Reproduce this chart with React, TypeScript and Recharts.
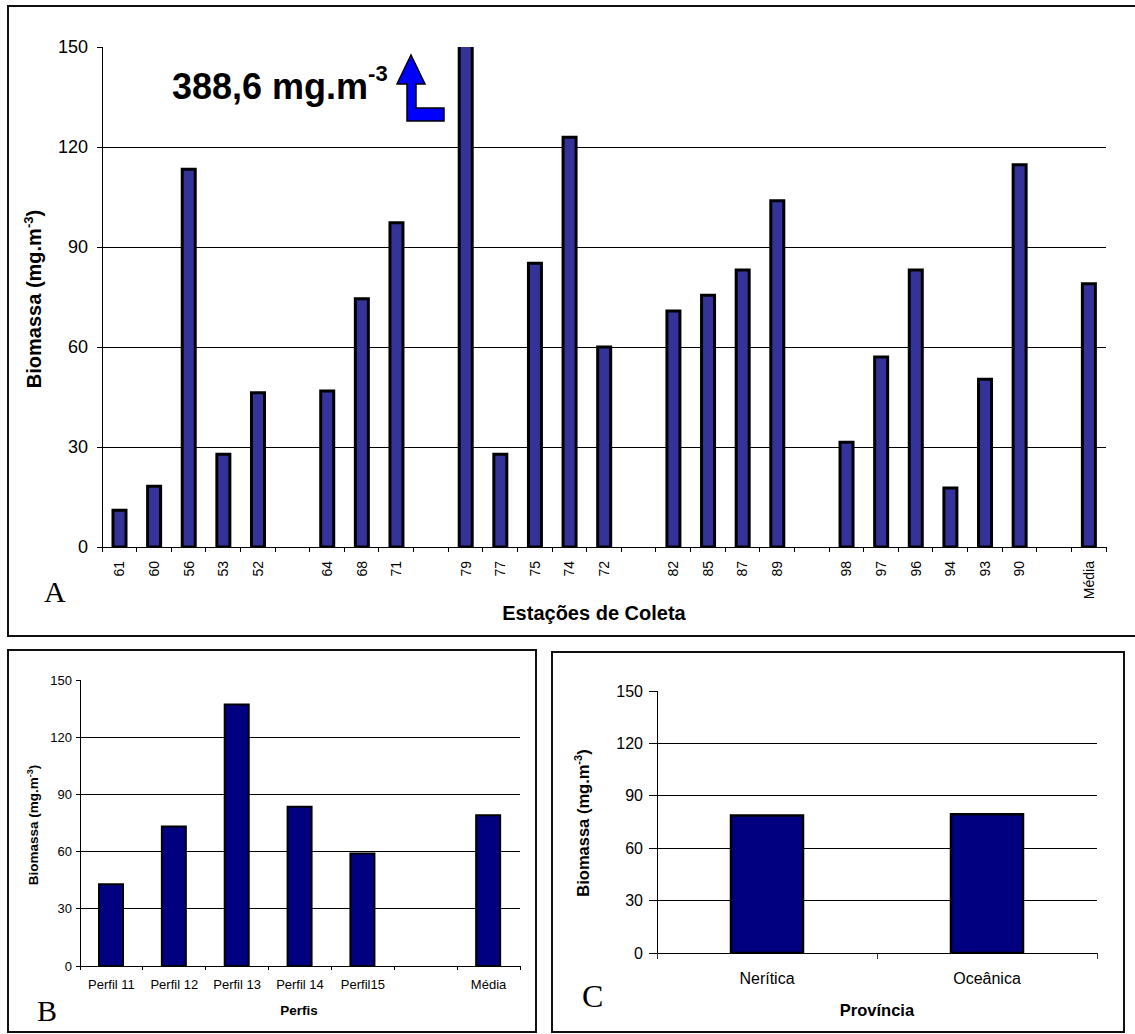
import React from 'react';
import { BarChart, Bar, XAxis, YAxis, CartesianGrid } from 'recharts';

const FONT = '"Liberation Sans", Arial, sans-serif';
const SERIF = '"Liberation Serif", "Times New Roman", serif';

// ---- Panel A: stations ----
const stationLabels = ['61', '60', '56', '53', '52', '', '64', '68', '71', '', '79', '77', '75', '74', '72', '', '82', '85', '87', '89', '', '98', '97', '96', '94', '93', '90', '', 'Média'];
const stationBiomass: (number | null)[] = [11.0, 18.2, 113.3, 27.8, 46.3, null, 46.8, 74.5, 97.3, null, 388.6, 27.8, 85.1, 122.9, 60.0, null, 70.8, 75.5, 83.1, 103.9, null, 31.4, 57.0, 83.1, 17.7, 50.3, 114.7, null, 79.0];

// ---- Panel B: profiles ----
const profileLabels = ['Perfil 11', 'Perfil 12', 'Perfil 13', 'Perfil 14', 'Perfil15', '', 'Média'];
const profileBiomass: (number | null)[] = [42.9, 73.2, 137.2, 83.5, 59.0, null, 79.0];

// ---- Panel C: provinces ----
const provinceLabels = ['Nerítica', 'Oceânica'];
const provinceBiomass: number[] = [78.7, 79.4];

const yTicks = [0, 30, 60, 90, 120, 150];
const gridValues = [30, 60, 90, 120];

const stationData = stationLabels.map((label, i) => ({ idx: i, label, value: stationBiomass[i] }));
const profileData = profileLabels.map((label, i) => ({ idx: i, label, value: profileBiomass[i] }));
const provinceData = provinceLabels.map((label, i) => ({ idx: i, label, value: provinceBiomass[i] }));

type TickOpts = {
  labels: string[];
  band: number;
  rotate: boolean;
  fontSize: number;
  labelOffset: number;
  markLen: number;
  markColor: string;
};

function makeBoundaryTick(o: TickOpts) {
  return (props: any) => {
    const { x, y, payload } = props;
    const i = Number(payload.value);
    const label = o.labels[i] ?? '';
    const half = o.band / 2;
    const last = i === o.labels.length - 1;
    return (
      <g>
        <line x1={x - half} y1={y} x2={x - half} y2={y + o.markLen} stroke={o.markColor} strokeWidth={1} shapeRendering="crispEdges" />
        {last && <line x1={x + half} y1={y} x2={x + half} y2={y + o.markLen} stroke={o.markColor} strokeWidth={1} shapeRendering="crispEdges" />}
        {label !== '' &&
          (o.rotate ? (
            <text
              transform={`translate(${x},${y + o.labelOffset}) rotate(-90)`}
              textAnchor="end"
              dominantBaseline="central"
              fontSize={o.fontSize}
              fontFamily={FONT}
              fill="#000"
            >
              {label}
            </text>
          ) : (
            <text x={x} y={y + o.labelOffset} textAnchor="middle" fontSize={o.fontSize} fontFamily={FONT} fill="#000">
              {label}
            </text>
          ))}
      </g>
    );
  };
}

type PanelProps = {
  data: { idx: number; label: string; value: number | null }[];
  labels: string[];
  width: number;
  height: number;
  margin: { top: number; right: number; bottom: number; left: number };
  yAxisWidth: number;
  xAxisHeight: number;
  barSize: number;
  fill: string;
  strokeWidth: number;
  yFont: number;
  yTickSize: number;
  yTickMargin: number;
  xTick: Omit<TickOpts, 'labels' | 'band'>;
};

function Panel(p: PanelProps) {
  const plotW = p.width - p.margin.left - p.margin.right - p.yAxisWidth;
  const band = plotW / p.labels.length;
  const tick = makeBoundaryTick({ ...p.xTick, labels: p.labels, band });
  return (
    <BarChart width={p.width} height={p.height} data={p.data} margin={p.margin} barCategoryGap={0}>
      <CartesianGrid horizontal vertical={false} stroke="#000" strokeWidth={1} horizontalValues={gridValues} shapeRendering="crispEdges" />
      <XAxis
        dataKey="idx"
        type="category"
        interval={0}
        height={p.xAxisHeight}
        tickSize={0}
        tickMargin={0}
        tickLine={false}
        tick={tick}
        axisLine={{ stroke: '#000', strokeWidth: 1, shapeRendering: 'crispEdges' }}
      />
      <XAxis
        xAxisId="top"
        orientation="top"
        dataKey="idx"
        type="category"
        height={0}
        tick={false}
        tickLine={false}
        axisLine={{ stroke: '#8a8a8a', strokeWidth: 1.5 }}
      />
      <YAxis
        domain={[0, 150]}
        ticks={yTicks}
        allowDataOverflow
        width={p.yAxisWidth}
        tickSize={p.yTickSize}
        tickMargin={p.yTickMargin}
        tick={{ fontSize: p.yFont, fill: '#000', fontFamily: FONT }}
        tickLine={{ stroke: '#000', shapeRendering: 'crispEdges' }}
        axisLine={{ stroke: '#000', strokeWidth: 1, shapeRendering: 'crispEdges' }}
      />
      <YAxis
        yAxisId="right"
        orientation="right"
        domain={[0, 150]}
        width={0}
        tick={false}
        tickLine={false}
        axisLine={{ stroke: '#8a8a8a', strokeWidth: 1.5 }}
      />
      <Bar dataKey="value" fill={p.fill} stroke="#000" strokeWidth={p.strokeWidth} barSize={p.barSize} isAnimationActive={false} />
    </BarChart>
  );
}

function YTitle({ x, y, size, sup }: { x: number; y: number; size: number; sup: number }) {
  return (
    <text transform={`translate(${x},${y}) rotate(-90)`} textAnchor="middle" fontSize={size} fontWeight="bold" fontFamily={FONT} fill="#000">
      Biomassa (mg.m
      <tspan fontSize={sup} dy={-size * 0.4}>-3</tspan>
      <tspan dy={size * 0.4}>)</tspan>
    </text>
  );
}

export default function App() {
  return (
    <div style={{ position: 'absolute', left: 0, top: 0, width: 1135, height: 1034, overflow: 'hidden', background: '#fff', fontFamily: FONT }}>
      {/* Panel A frame */}
      <div style={{ position: 'absolute', left: 7, top: 5, width: 1140, height: 628, borderTop: '2px solid #111', borderLeft: '2px solid #111', borderBottom: '2px solid #111' }} />
      {/* Panel B frame */}
      <div style={{ position: 'absolute', left: 7, top: 649, width: 526, height: 380, border: '2px solid #111' }} />
      {/* Panel C frame */}
      <div style={{ position: 'absolute', left: 551, top: 651, width: 570, height: 378, border: '2px solid #111' }} />

      <div style={{ position: 'absolute', left: 0, top: 0 }}>
        <Panel
          data={stationData}
          labels={stationLabels}
          width={1135}
          height={640}
          margin={{ top: 47, right: 29, bottom: 63, left: 42 }}
          yAxisWidth={60}
          xAxisHeight={30}
          barSize={13}
          fill="#333399"
          strokeWidth={3}
          yFont={18}
          yTickSize={5}
          yTickMargin={9}
          xTick={{ rotate: true, fontSize: 14, labelOffset: 14, markLen: 5, markColor: '#000' }}
        />
      </div>

      <div style={{ position: 'absolute', left: 0, top: 640 }}>
        <Panel
          data={profileData}
          labels={profileLabels}
          width={535}
          height={394}
          margin={{ top: 40, right: 15, bottom: 38, left: 30 }}
          yAxisWidth={50}
          xAxisHeight={30}
          barSize={24}
          fill="#000080"
          strokeWidth={2}
          yFont={13}
          yTickSize={4}
          yTickMargin={4}
          xTick={{ rotate: false, fontSize: 13, labelOffset: 23, markLen: 4, markColor: '#000' }}
        />
      </div>

      <div style={{ position: 'absolute', left: 550, top: 640 }}>
        <Panel
          data={provinceData}
          labels={provinceLabels}
          width={585}
          height={394}
          margin={{ top: 51, right: 38, bottom: 51, left: 47 }}
          yAxisWidth={60}
          xAxisHeight={30}
          barSize={72}
          fill="#000080"
          strokeWidth={2.5}
          yFont={16}
          yTickSize={8}
          yTickMargin={6}
          xTick={{ rotate: false, fontSize: 16, labelOffset: 31, markLen: 6, markColor: '#333' }}
        />
      </div>

      {/* Annotations */}
      <svg width={1135} height={1034} style={{ position: 'absolute', left: 0, top: 0, pointerEvents: 'none' }}>
        {/* Panel A */}
        <YTitle x={41} y={299} size={20} sup={13} />
        <text x={594} y={620} textAnchor="middle" fontSize={20} fontWeight="bold" fontFamily={FONT} fill="#000">Estações de Coleta</text>
        <text x={44} y={602} fontSize={30} fontFamily={SERIF} fill="#000">A</text>
        <text x={172} y={99} fontSize={36} fontWeight="bold" fontFamily={FONT} fill="#000">
          388,6 mg.m
          <tspan fontSize={22} dy={-18}>-3</tspan>
        </text>
        <polygon
          points="411,55 425,84 416,84 416,108 444,108 444,121 407,121 407,84 397,84"
          fill="#0000ff"
          stroke="#000"
          strokeWidth={1.5}
          strokeLinejoin="miter"
        />

        {/* Panel B */}
        <YTitle x={38} y={825} size={13.5} sup={9} />
        <text x={299} y={1015} textAnchor="middle" fontSize={13.5} fontWeight="bold" fontFamily={FONT} fill="#000">Perfis</text>
        <text x={37} y={1021} fontSize={30} fontFamily={SERIF} fill="#000">B</text>

        {/* Panel C */}
        <YTitle x={589} y={823} size={16.5} sup={11} />
        <text x={877} y={1016} textAnchor="middle" fontSize={16.5} fontWeight="bold" fontFamily={FONT} fill="#000">Província</text>
        <text x={582} y={1007} fontSize={32} fontFamily={SERIF} fill="#000">C</text>
      </svg>
    </div>
  );
}
